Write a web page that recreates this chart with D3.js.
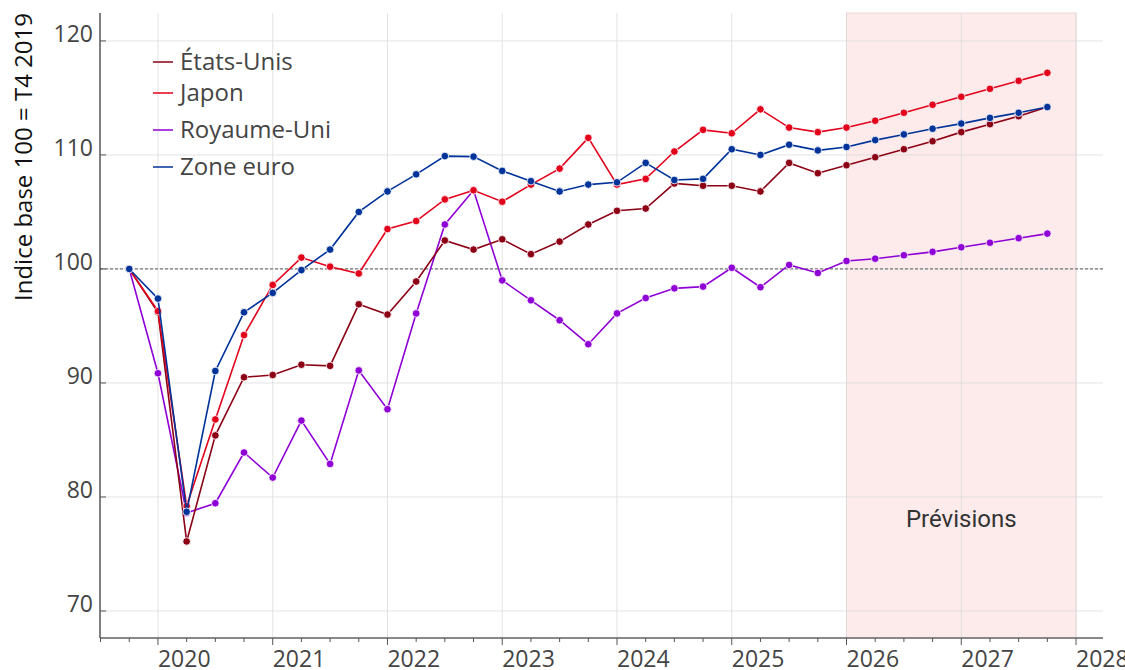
<!DOCTYPE html>
<html>
<head>
<meta charset="utf-8">
<script src="https://cdn.jsdelivr.net/npm/d3@7"></script>
<style>
  body { margin: 0; background: #fff; }
  svg { display: block; }
</style>
</head>
<body>
<svg id="chart"></svg>
<script>
// constants
const width = 1125,
    height = 670,
    margin = { top: 13, bottom: 32, left: 100, right: 22 };

// data : indices base 100 = T4 2019
const quarters = ["2019T4",
    "2020T1", "2020T2", "2020T3", "2020T4",
    "2021T1", "2021T2", "2021T3", "2021T4",
    "2022T1", "2022T2", "2022T3", "2022T4",
    "2023T1", "2023T2", "2023T3", "2023T4",
    "2024T1", "2024T2", "2024T3", "2024T4",
    "2025T1", "2025T2", "2025T3", "2025T4",
    "2026T1", "2026T2", "2026T3", "2026T4",
    "2027T1", "2027T2", "2027T3", "2027T4"];

const etatsUnis = [100, 96.2, 76.1, 85.4, 90.5, 90.7, 91.6, 91.5, 96.9, 96.0, 98.9, 102.5, 101.7,
    102.6, 101.3, 102.4, 103.9, 105.1, 105.3, 107.5, 107.3, 107.3, 106.8, 109.3, 108.4,
    109.1, 109.8, 110.5, 111.2, 112.0, 112.7, 113.4, 114.2];
const japon = [100, 96.3, 79.2, 86.8, 94.2, 98.6, 101.0, 100.2, 99.6, 103.5, 104.2, 106.1, 106.9,
    105.9, 107.4, 108.8, 111.5, 107.4, 107.9, 110.3, 112.2, 111.9, 114.0, 112.4, 112.0,
    112.4, 113.0, 113.7, 114.4, 115.1, 115.8, 116.5, 117.2];
const royaumeUni = [100, 90.85, 78.6, 79.45, 83.9, 81.7, 86.7, 82.9, 91.1, 87.7, 96.1, 103.9, 106.9,
    99.0, 97.25, 95.5, 93.4, 96.1, 97.45, 98.3, 98.45, 100.1, 98.4, 100.35, 99.65,
    100.7, 100.9, 101.2, 101.5, 101.9, 102.3, 102.7, 103.1];
const zoneEuro = [100, 97.4, 78.7, 91.05, 96.2, 97.9, 99.9, 101.7, 105.0, 106.8, 108.3, 109.9, 109.85,
    108.6, 107.7, 106.8, 107.4, 107.6, 109.3, 107.8, 107.9, 110.5, 110.0, 110.9, 110.4,
    110.7, 111.3, 111.8, 112.3, 112.75, 113.25, 113.7, 114.2];

const seriesNames = ["États-Unis", "Japon", "Royaume-Uni", "Zone euro"];
const seriesValues = [etatsUnis, japon, royaumeUni, zoneEuro];
const seriesColors = ["#8c0015", "#e3001b", "#8f00d6", "#003399"];

const yearTicks = [2020, 2021, 2022, 2023, 2024, 2025, 2026, 2027, 2028];
const valueTicks = [70, 80, 90, 100, 110, 120];
const forecastStart = 2026, forecastEnd = 2028;

// quarter label -> decimal year (start of quarter)
const toYear = q => +q.slice(0, 4) + (+q.slice(5) - 1) / 4;

const svg = d3.select("#chart").attr("width", width).attr("height", height);

const xScale = d3.scaleLinear()
    .domain([2019.495, 2028.235])
    .range([margin.left, width - margin.right]);

const yScale = d3.scaleLinear()
    .domain([67.63, 122.45])
    .range([height - margin.bottom, margin.top]);

const plotTop = margin.top, plotBottom = height - margin.bottom;

// forecast area
svg.append("rect")
    .attr("x", xScale(forecastStart))
    .attr("y", plotTop)
    .attr("width", xScale(forecastEnd) - xScale(forecastStart))
    .attr("height", plotBottom - plotTop)
    .attr("fill", "#fdeaea")
    .attr("stroke", "#f0d8d8")
    .attr("stroke-width", 1);

// grid
svg.append("g")
    .selectAll("line")
    .data(yearTicks)
    .join("line")
    .attr("x1", d => xScale(d)).attr("x2", d => xScale(d))
    .attr("y1", plotTop).attr("y2", plotBottom)
    .attr("stroke", "#dcdcdc").attr("stroke-opacity", 0.8).attr("stroke-width", 1);

svg.append("g")
    .selectAll("line")
    .data(valueTicks)
    .join("line")
    .attr("x1", margin.left).attr("x2", width - margin.right)
    .attr("y1", d => yScale(d)).attr("y2", d => yScale(d))
    .attr("stroke", "#dcdcdc").attr("stroke-opacity", 0.8).attr("stroke-width", 1);

// reference line at 100
svg.append("line")
    .attr("x1", margin.left).attr("x2", width - margin.right)
    .attr("y1", yScale(100)).attr("y2", yScale(100))
    .attr("stroke", "#777").attr("stroke-width", 1.2)
    .attr("stroke-dasharray", "3,2");

svg.append("text")
    .attr("x", xScale(2027))
    .attr("y", 527)
    .attr("text-anchor", "middle")
    .attr("font-family", "Roboto, sans-serif")
    .attr("font-size", 24)
    .attr("fill", "#333")
    .text("Prévisions");

// axes
const quarterTicks = d3.range(2019.5, 2028.01, 0.25);
const xAxis = svg.append("g").attr("transform", `translate(0,${plotBottom})`);
xAxis.append("line")
    .attr("x1", margin.left).attr("x2", width - margin.right)
    .attr("stroke", "#888").attr("stroke-width", 2);
xAxis.selectAll(".minor")
    .data(quarterTicks)
    .join("line")
    .attr("x1", d => xScale(d)).attr("x2", d => xScale(d))
    .attr("y1", 0).attr("y2", d => Number.isInteger(d) ? 7 : 4)
    .attr("stroke", "#555").attr("stroke-width", 1);
xAxis.selectAll("text")
    .data(yearTicks)
    .join("text")
    .attr("x", d => xScale(d))
    .attr("y", 29)
    .attr("font-family", "'Open Sans', sans-serif")
    .attr("font-size", 23)
    .attr("fill", "#444")
    .text(d => d);

const yAxis = svg.append("g").attr("transform", `translate(${margin.left},0)`);
yAxis.append("line")
    .attr("y1", plotTop).attr("y2", plotBottom)
    .attr("stroke", "#555").attr("stroke-width", 1.5);
yAxis.selectAll(".tick")
    .data(valueTicks)
    .join("line")
    .attr("x1", 0).attr("x2", 6)
    .attr("y1", d => yScale(d)).attr("y2", d => yScale(d))
    .attr("stroke", "#555").attr("stroke-width", 1);
yAxis.selectAll("text")
    .data(valueTicks)
    .join("text")
    .attr("x", -7)
    .attr("y", d => yScale(d) + 1)
    .attr("text-anchor", "end")
    .attr("font-family", "'Open Sans', sans-serif")
    .attr("font-size", 23)
    .attr("fill", "#444")
    .text(d => d);

svg.append("text")
    .attr("transform", `translate(32,${157}) rotate(-90)`)
    .attr("text-anchor", "middle")
    .attr("font-family", "'Open Sans', sans-serif")
    .attr("font-size", 24)
    .attr("fill", "#111")
    .text("Indice base 100 = T4 2019");

// lines & points
const line = d3.line()
    .x((d, i) => xScale(toYear(quarters[i])))
    .y(d => yScale(d));

// draw order: UK, US, Japan, Euro zone on top
const drawOrder = [2, 0, 1, 3];
drawOrder.forEach(k => {
    const g = svg.append("g");
    g.append("path")
        .datum(seriesValues[k])
        .attr("d", line)
        .attr("fill", "none")
        .attr("stroke", seriesColors[k])
        .attr("stroke-width", 1.6);
    g.selectAll("circle")
        .data(seriesValues[k])
        .join("circle")
        .attr("cx", (d, i) => xScale(toYear(quarters[i])))
        .attr("cy", d => yScale(d))
        .attr("r", 3.8)
        .attr("fill", seriesColors[k])
        .attr("stroke", "#fff")
        .attr("stroke-width", 0.8);
});

// legend
const legendY = [62, 93, 130, 167];
const legend = svg.append("g");
seriesNames.forEach((name, k) => {
    legend.append("line")
        .attr("x1", 153).attr("x2", 173)
        .attr("y1", legendY[k]).attr("y2", legendY[k])
        .attr("stroke", seriesColors[k]).attr("stroke-width", 1.5);
    legend.append("text")
        .attr("x", 180).attr("y", legendY[k])
        .attr("dy", "0.35em")
        .attr("font-family", "'Open Sans', sans-serif")
        .attr("font-size", 24)
        .attr("fill", "#444")
        .text(name);
});
</script>
</body>
</html>
